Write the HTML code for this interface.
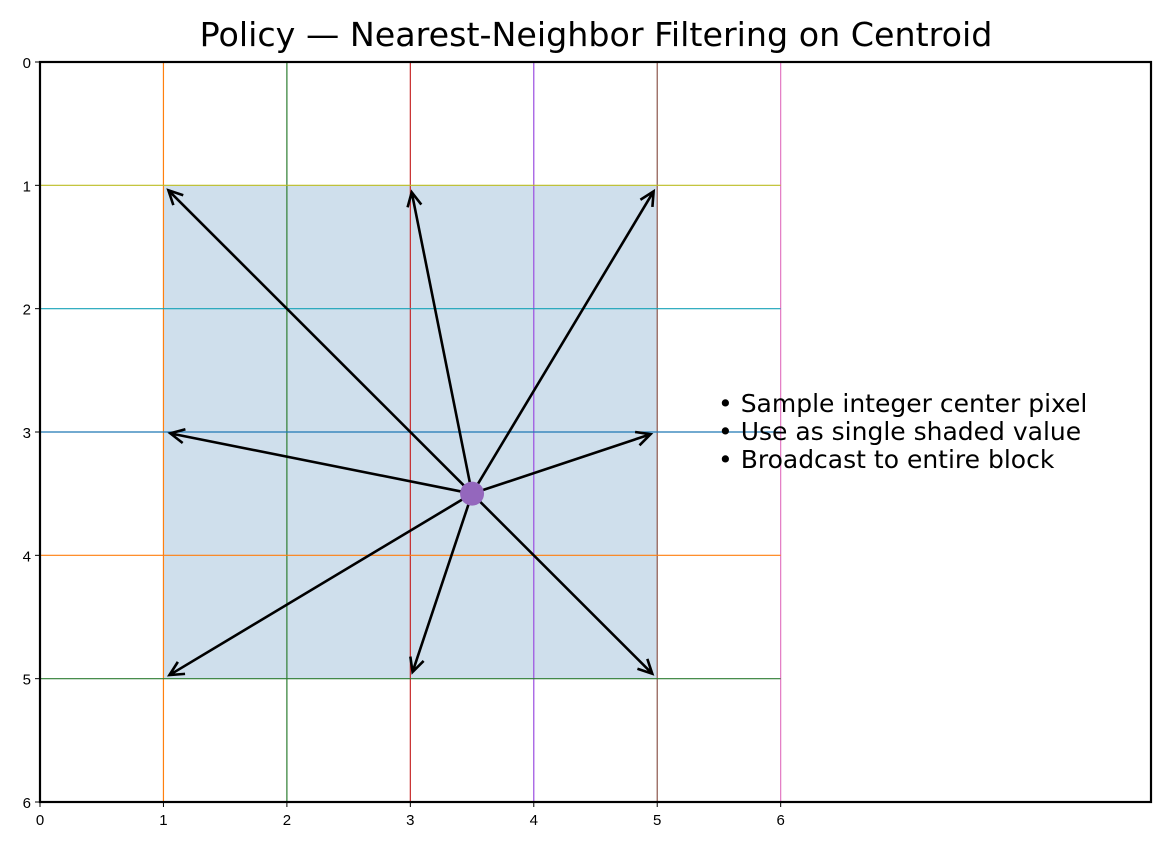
<!DOCTYPE html>
<html><head><meta charset="utf-8"><style>
body{margin:0;background:#fff;font-family:"Liberation Sans","DejaVu Sans",sans-serif;}
</style></head><body>
<svg id="c" width="1171" height="847" xmlns="http://www.w3.org/2000/svg">
<rect width="1171" height="847" fill="#fff"/>
<text x="596" y="46" text-anchor="middle" font-size="33.3" font-family="DejaVu Sans, sans-serif">Policy — Nearest-Neighbor Filtering on Centroid</text>
<g id="plot"></g>
</svg>
<script>
const vLinesX=[1,2,3,4,5,6];
const vColors=["#ff7f0e","#2e7d32","#c62828","#9b4de0","#8c564b","#e377c2"];
const hLinesY=[1,2,3,4,5];
const hColors=["#bcbd22","#17a2b8","#1f77b4","#ff7f0e","#2e7d32"];
const block=[1,1,5,5];
const centroid=[3.5,3.5];
const targetsX=[1,3,5,1,5,1,3,5];
const targetsY=[1,1,1,3,3,5,5,5];
const xTicks=[0,1,2,3,4,5,6];
const yTicks=[0,1,2,3,4,5,6];
const notes=["• Sample integer center pixel","• Use as single shaded value","• Broadcast to entire block"];
const X0=40,X1=1151,Y0=62,Y1=802,XMAX=9.0,YMAX=6;
const sx=v=>X0+v*(X1-X0)/XMAX, sy=v=>Y0+v*(Y1-Y0)/YMAX;
const NS="http://www.w3.org/2000/svg",g=document.getElementById('plot');
function mk(t,a){const e=document.createElementNS(NS,t);for(const k in a)e.setAttribute(k,a[k]);g.appendChild(e);return e;}
let r=mk('rect',{x:sx(block[0]),y:sy(block[1]),width:sx(block[2])-sx(block[0]),height:sy(block[3])-sy(block[1]),fill:"#cfdfec"});


vLinesX.forEach((v,i)=>{const l=mk('line',{x1:sx(v),x2:sx(v),y1:sy(0),y2:sy(6),stroke:vColors[i],'stroke-width':1.2});

});
hLinesY.forEach((v,i)=>{const l=mk('line',{x1:sx(0),x2:sx(6),y1:sy(v),y2:sy(v),stroke:hColors[i],'stroke-width':1.2});

});
const cx=sx(centroid[0]),cy=sy(centroid[1]);
targetsX.forEach((tx,i)=>{
 const ex=sx(tx),ey=sy(targetsY[i]);const dx=ex-cx,dy=ey-cy,L=Math.hypot(dx,dy),ux=dx/L,uy=dy/L;
 const px=ex-ux*7,py=ey-uy*7;
 const a=mk('path',{d:`M${cx},${cy}L${px},${py}M${px-ux*14-uy*7},${py-uy*14+ux*7}L${px},${py}L${px-ux*14+uy*7},${py-uy*14-ux*7}`,stroke:"#000",'stroke-width':2.6,fill:"none"});
 
 
});
const dot=mk('circle',{cx:cx,cy:cy,r:12,fill:"#9467bd"});


const fr=mk('rect',{x:X0,y:Y0,width:X1-X0,height:Y1-Y0,fill:"none",stroke:"#000",'stroke-width':2.2});


xTicks.forEach(v=>{mk('line',{x1:sx(v),x2:sx(v),y1:Y1,y2:Y1+5,stroke:"#000"});
const t=mk('text',{x:sx(v),y:Y1+23,'text-anchor':'middle','font-size':15});t.textContent=v;

});
yTicks.forEach(v=>{mk('line',{x1:X0-5,x2:X0,y1:sy(v),y2:sy(v),stroke:"#000"});
const t=mk('text',{x:X0-9,y:sy(v)+6,'text-anchor':'end','font-size':15});t.textContent=v;

});
notes.forEach((s,i)=>{const t=mk('text',{x:718,y:412+i*28,'font-size':25,'font-family':'DejaVu Sans, sans-serif'});t.textContent=s;

});
</script>
</body></html>
